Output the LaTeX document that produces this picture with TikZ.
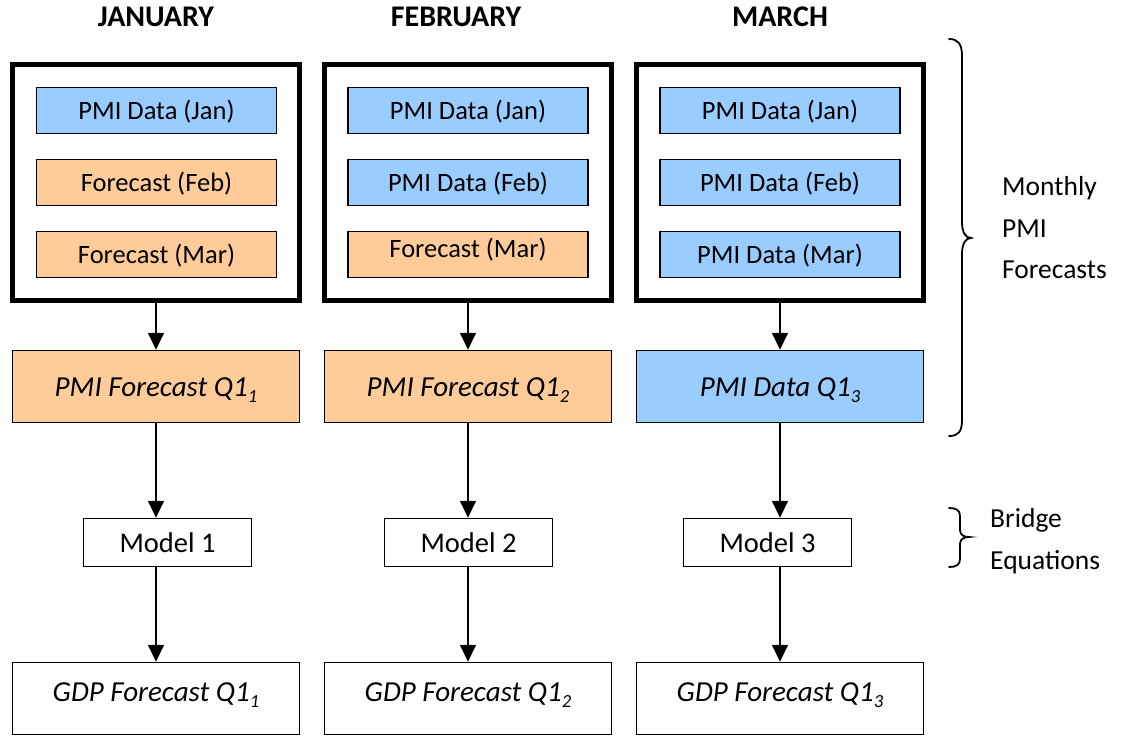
\documentclass[tikz,border=0pt]{standalone}
\usepackage{fontspec}
\setmainfont{Carlito}
\usetikzlibrary{arrows.meta}
\definecolor{pmiblue}{HTML}{99CCFF}
\definecolor{fcorange}{HTML}{FFCC99}
\newcommand\mysub[1]{\raisebox{-5.5pt}{\fontsize{18.5}{18.5}\selectfont #1}}
\tikzset{
  outerbox/.style={draw=black, line width=5pt, minimum width=287pt, minimum height=236pt, inner sep=0pt},
  inbox/.style={draw=black, line width=1.5pt, minimum width=240pt, minimum height=46pt, inner sep=0pt,
    font=\fontsize{26.5}{30}\selectfont, text height=21pt, text depth=3.2pt},
  databox/.style={inbox, fill=pmiblue},
  fcbox/.style={inbox, fill=fcorange},
  qbox/.style={draw=black, line width=1.5pt, minimum width=287pt, minimum height=72pt, inner sep=0pt,
    font=\fontsize{29}{32}\selectfont\itshape, text height=23pt, text depth=3pt},
  modelbox/.style={draw=black, line width=1.5pt, minimum width=168pt, minimum height=48pt, inner sep=0pt,
    font=\fontsize{28.5}{32}\selectfont, text height=23pt, text depth=2.6pt},
  gdpbox/.style={draw=black, fill=white, line width=1.5pt, minimum width=287pt, minimum height=72pt, inner sep=0pt,
    font=\fontsize{29}{32}\selectfont\itshape, text height=17pt, text depth=10.6pt},
  header/.style={anchor=base, inner sep=0pt, font=\fontsize{30}{32}\selectfont\bfseries},
  sidelabel/.style={anchor=base west, inner sep=0pt, font=\fontsize{27.5}{30}\selectfont},
  arr/.style={line width=2pt, -{Triangle[width=16pt,length=17pt]}},
  bracepath/.style={line width=1.8pt, line cap=round}
}
\begin{document}
\begin{tikzpicture}[x=1pt,y=-1pt]
\useasboundingbox (0,0) rectangle (1126,736);

% headers
\node[header] (hjan) at (156,27) {JANUARY};
\node[header] (hfeb) at (456,27) {FEBRUARY};
\node[header] (hmar) at (780,27) {MARCH};

% outer boxes
\node[outerbox] (o1) at (156,182.5) {};
\node[outerbox] (o2) at (468,182.5) {};
\node[outerbox] (o3) at (780,182.5) {};

% inner boxes column 1
\node[databox] (a1) at (156.5,110.5) {PMI Data (Jan)};
\node[fcbox]   (a2) at (156.5,182.5) {Forecast (Feb)};
\node[fcbox]   (a3) at (156.5,254.5) {Forecast (Mar)};
% column 2
\node[databox] (b1) at (468,110.5) {PMI Data (Jan)};
\node[databox] (b2) at (468,182.5) {PMI Data (Feb)};
\node[fcbox]   (b3) at (468,254.5) {\raisebox{6pt}{Forecast (Mar)}};
% column 3
\node[databox] (c1) at (780,110.5) {PMI Data (Jan)};
\node[databox] (c2) at (780,182.5) {PMI Data (Feb)};
\node[databox] (c3) at (780,254.5) {PMI Data (Mar)};

% quarterly PMI
\node[qbox, fill=fcorange] (q1) at (156,386.5) {PMI Forecast Q1\mysub{1}};
\node[qbox, fill=fcorange] (q2) at (468,386.5) {PMI Forecast Q1\mysub{2}};
\node[qbox, fill=pmiblue]  (q3) at (780,386.5) {PMI Data Q1\mysub{3}};

% models
\node[modelbox] (m1) at (167.5,542.5) {Model 1};
\node[modelbox] (m2) at (468.5,542.5) {Model 2};
\node[modelbox] (m3) at (767.5,542.5) {Model 3};

% GDP
\node[gdpbox] (g1) at (156,698.5) {GDP Forecast Q1\mysub{1}};
\node[gdpbox] (g2) at (468,698.5) {GDP Forecast Q1\mysub{2}};
\node[gdpbox] (g3) at (780,698.5) {GDP Forecast Q1\mysub{3}};

% arrows
\foreach \o/\q/\m/\g in {o1/q1/m1/g1, o2/q2/m2/g2, o3/q3/m3/g3}{
  \draw[arr] (\o.south) -- (\q.north);
  \draw[arr] (\q.south) -- (\q.south |- \m.north);
  \draw[arr] (\q.south |- \m.south) -- (\g.north);
}

% braces
\draw[bracepath] (949,39) .. controls (958,39) and (962,44) .. (962,56)
  -- (962,222) .. controls (962,233) and (966,238) .. (971,238)
  .. controls (966,238) and (962,243) .. (962,254)
  -- (962,420) .. controls (962,432) and (958,436) .. (949,436);
\draw[bracepath] (949,508) .. controls (956,508) and (960,510) .. (960,516)
  -- (960,530) .. controls (960,535) and (964,537) .. (969,537)
  .. controls (964,537) and (960,539) .. (960,544)
  -- (960,559) .. controls (960,565) and (956,567) .. (949,567);

% side labels
\node[sidelabel] (l1) at (1002,195) {Monthly};
\node[sidelabel] (l2) at (1002,237) {PMI};
\node[sidelabel] (l3) at (1002,278) {Forecasts};
\node[sidelabel] (l4) at (990,527) {Bridge};
\node[sidelabel] (l5) at (990,569) {Equations};
\end{tikzpicture}
\end{document}
